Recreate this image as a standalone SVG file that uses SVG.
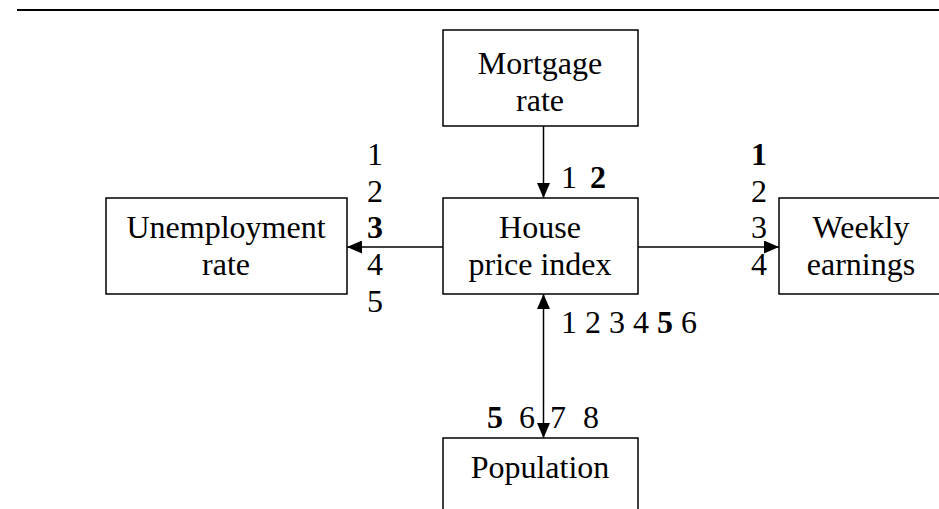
<svg xmlns="http://www.w3.org/2000/svg" width="939" height="509" viewBox="0 0 939 509">
<style>
.box{fill:#fff;stroke:#000;stroke-width:1.5}
.t{font-family:"Liberation Serif","Times New Roman",serif;font-size:32px;fill:#000}
.c{text-anchor:middle}
.b{font-weight:bold}
.ln{stroke:#000;stroke-width:1.5;fill:none}
</style>
<defs>
<marker id="ah" viewBox="0 0 15 13" refX="15" refY="6.5" markerWidth="15" markerHeight="13" markerUnits="userSpaceOnUse" orient="auto-start-reverse">
<path d="M0,0 L15,6.5 L0,13 Z" fill="#000"/>
</marker>
</defs>
<line x1="17" y1="10" x2="939" y2="10" stroke="#000" stroke-width="2"/>
<g id="connectors">
<line class="ln" x1="543.5" y1="126" x2="543.5" y2="198" marker-end="url(#ah)"/>
<line class="ln" x1="443" y1="247" x2="347" y2="247" marker-end="url(#ah)"/>
<line class="ln" x1="638" y1="247" x2="779" y2="247" marker-end="url(#ah)"/>
<line class="ln" x1="543.5" y1="294" x2="543.5" y2="438" marker-start="url(#ah)" marker-end="url(#ah)"/>
</g>
<g id="mortgage">
<rect class="box" x="443" y="30" width="195" height="96"/>
<text class="t c" x="540" y="74">Mortgage</text>
<text class="t c" x="540" y="111">rate</text>
</g>
<g id="house">
<rect class="box" x="443" y="198" width="195" height="96"/>
<text class="t c" x="540" y="238">House</text>
<text class="t c" x="540" y="275">price index</text>
</g>
<g id="unemployment">
<rect class="box" x="106" y="198" width="241" height="96"/>
<text class="t c" x="226" y="238">Unemployment</text>
<text class="t c" x="226" y="275">rate</text>
</g>
<g id="weekly">
<rect class="box" x="779" y="198" width="166" height="96"/>
<text class="t c" x="861" y="238">Weekly</text>
<text class="t c" x="861" y="275">earnings</text>
</g>
<g id="population">
<rect class="box" x="443" y="438" width="195" height="90"/>
<text class="t c" x="540" y="478">Population</text>
</g>
<g id="labels">
<text class="t" x="367" y="165">1</text>
<text class="t" x="367" y="202">2</text>
<text class="t b" x="367" y="238">3</text>
<text class="t" x="367" y="275">4</text>
<text class="t" x="367" y="312">5</text>
<text class="t b" x="751" y="165">1</text>
<text class="t" x="751" y="202">2</text>
<text class="t" x="751" y="238">3</text>
<text class="t" x="751" y="275">4</text>
<text class="t" x="561" y="188">1</text>
<text class="t b" x="590" y="188">2</text>
<text class="t" x="561" y="333">1 2 3 4 <tspan class="b">5</tspan> 6</text>
<text class="t b" x="487" y="428">5</text>
<text class="t" x="519" y="428">6</text>
<text class="t" x="550" y="428">7</text>
<text class="t" x="583" y="428">8</text>
</g>
</svg>
